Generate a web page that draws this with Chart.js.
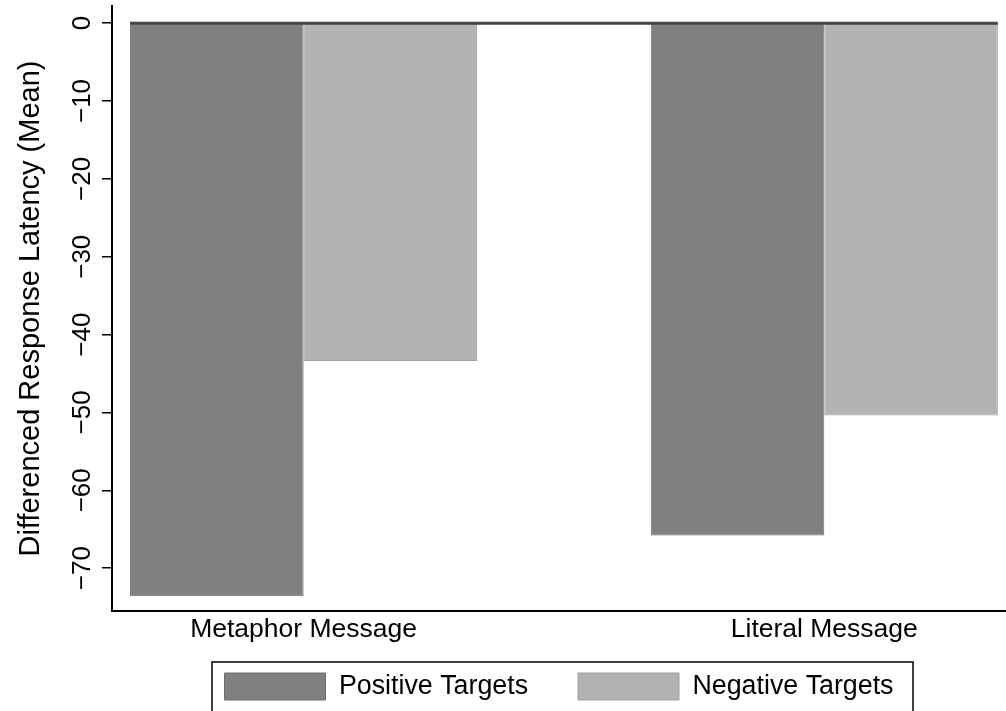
<!DOCTYPE html>
<html>
<head>
<meta charset="utf-8">
<script src="https://cdn.jsdelivr.net/npm/chart.js@4/dist/chart.umd.min.js"></script>
<style>
  html, body { margin: 0; padding: 0; background: #ffffff; }
  #wrap { width: 1006px; height: 711px; }
</style>
</head>
<body>
<div id="wrap"><canvas id="chart" width="1006" height="711"></canvas></div>
<script>
// Mean differenced response latency by message type and target valence
const categories = ['Metaphor Message', 'Literal Message'];
const positiveTargets = [-73.6, -65.8];
const negativeTargets = [-43.4, -50.4];
const yTickValues = [0, -10, -20, -30, -40, -50, -60, -70];

const FONT = 'Liberation Sans, Arial, Helvetica, sans-serif';

// category i sits at x = i + 1 on a linear index axis
const toPoints = vals => vals.map((v, i) => ({ x: i + 1, y: v }));

// thick baseline at zero spanning the bar groups
const zeroLine = {
  id: 'zeroLine',
  afterDatasetsDraw(chart) {
    const y = chart.scales.y.getPixelForValue(0);
    const first = chart.getDatasetMeta(0).data[0];
    const lastMeta = chart.getDatasetMeta(chart.data.datasets.length - 1);
    const last = lastMeta.data[lastMeta.data.length - 1];
    const x0 = first.x - first.width / 2;
    const x1 = last.x + last.width / 2;
    const ctx = chart.ctx;
    ctx.save();
    ctx.strokeStyle = '#454545';
    ctx.lineWidth = 3;
    ctx.beginPath();
    ctx.moveTo(x0, y);
    ctx.lineTo(x1, y);
    ctx.stroke();
    ctx.restore();
  }
};

// let the legend block reach up into the space beside the category labels
const legendLift = {
  id: 'legendLift',
  afterLayout(chart) {
    const lg = chart.legend;
    if (!lg) return;
    const h = 88;
    lg.top = lg.bottom - h;
    lg.height = h;
  }
};

// frame around the legend entries
const legendFrame = {
  id: 'legendFrame',
  afterDraw(chart) {
    const lg = chart.legend;
    if (!lg || !lg.legendHitBoxes || !lg.legendHitBoxes.length) return;
    const hb = lg.legendHitBoxes;
    const a = hb[0], b = hb[hb.length - 1];
    const left = a.left - 12.5;
    const right = b.left + b.width + 19.5;
    const top = a.top - 11;
    const bottom = a.top + a.height + 12;
    const ctx = chart.ctx;
    ctx.save();
    ctx.strokeStyle = '#000000';
    ctx.lineWidth = 1.5;
    ctx.strokeRect(left, top, right - left, bottom - top);
    ctx.restore();
  }
};

new Chart(document.getElementById('chart'), {
  type: 'bar',
  data: {
    datasets: [
      {
        label: 'Positive Targets',
        data: toPoints(positiveTargets),
        backgroundColor: '#808080',
        borderColor: '#6e6e6e',
        borderWidth: 1
      },
      {
        label: 'Negative Targets',
        data: toPoints(negativeTargets),
        backgroundColor: '#b3b3b3',
        borderColor: '#a0a0a0',
        borderWidth: 1
      }
    ]
  },
  options: {
    responsive: false,
    animation: false,
    devicePixelRatio: 1,
    layout: { padding: { top: 6, right: 0, bottom: 0, left: 0 } },
    datasets: {
      bar: { categoryPercentage: 2 / 3, barPercentage: 1 }
    },
    plugins: {
      tooltip: { enabled: false },
      legend: {
        position: 'bottom',
        fullSize: false,
        maxHeight: 60,
        labels: {
          boxWidth: 101,
          boxHeight: 27,
          padding: 50,
          color: '#000000',
          font: { family: FONT, size: 26.8 }
        }
      }
    },
    scales: {
      x: {
        type: 'linear',
        offset: false,
        min: 0.632,
        max: 2.349,
        afterBuildTicks(scale) {
          scale.ticks = categories.map((c, i) => ({ value: i + 1 }));
        },
        afterFit(scale) { scale.height = 40; },
        grid: { display: false, drawTicks: false, offset: false },
        border: { display: true, color: '#000000', width: 2 },
        ticks: {
          padding: 3,
          color: '#000000',
          maxRotation: 0,
          autoSkip: false,
          font: { family: FONT, size: 26.5 },
          callback: v => categories[Math.round(v) - 1] || ''
        }
      },
      y: {
        min: -75.5,
        max: 2.2,
        afterBuildTicks(scale) {
          scale.ticks = yTickValues.map(v => ({ value: v }));
        },
        afterFit(scale) {
          scale.width = 112;
          scale.paddingTop = 0;
          scale.paddingBottom = 0;
        },
        grid: {
          drawOnChartArea: false,
          drawTicks: true,
          tickLength: 10,
          color: '#000000',
          lineWidth: 1.5
        },
        border: { display: true, color: '#000000', width: 2 },
        ticks: {
          minRotation: 90,
          maxRotation: 90,
          crossAlign: 'center',
          padding: -2.5,
          color: '#000000',
          autoSkip: false,
          font: { family: FONT, size: 26 },
          callback: v => (v < 0 ? '\u2212' + Math.abs(v) : String(v))
        },
        title: {
          display: true,
          text: 'Differenced Response Latency (Mean)',
          color: '#000000',
          font: { family: FONT, size: 29 },
          padding: { top: 14, bottom: 0 }
        }
      }
    }
  },
  plugins: [zeroLine, legendLift, legendFrame]
});
</script>
</body>
</html>
